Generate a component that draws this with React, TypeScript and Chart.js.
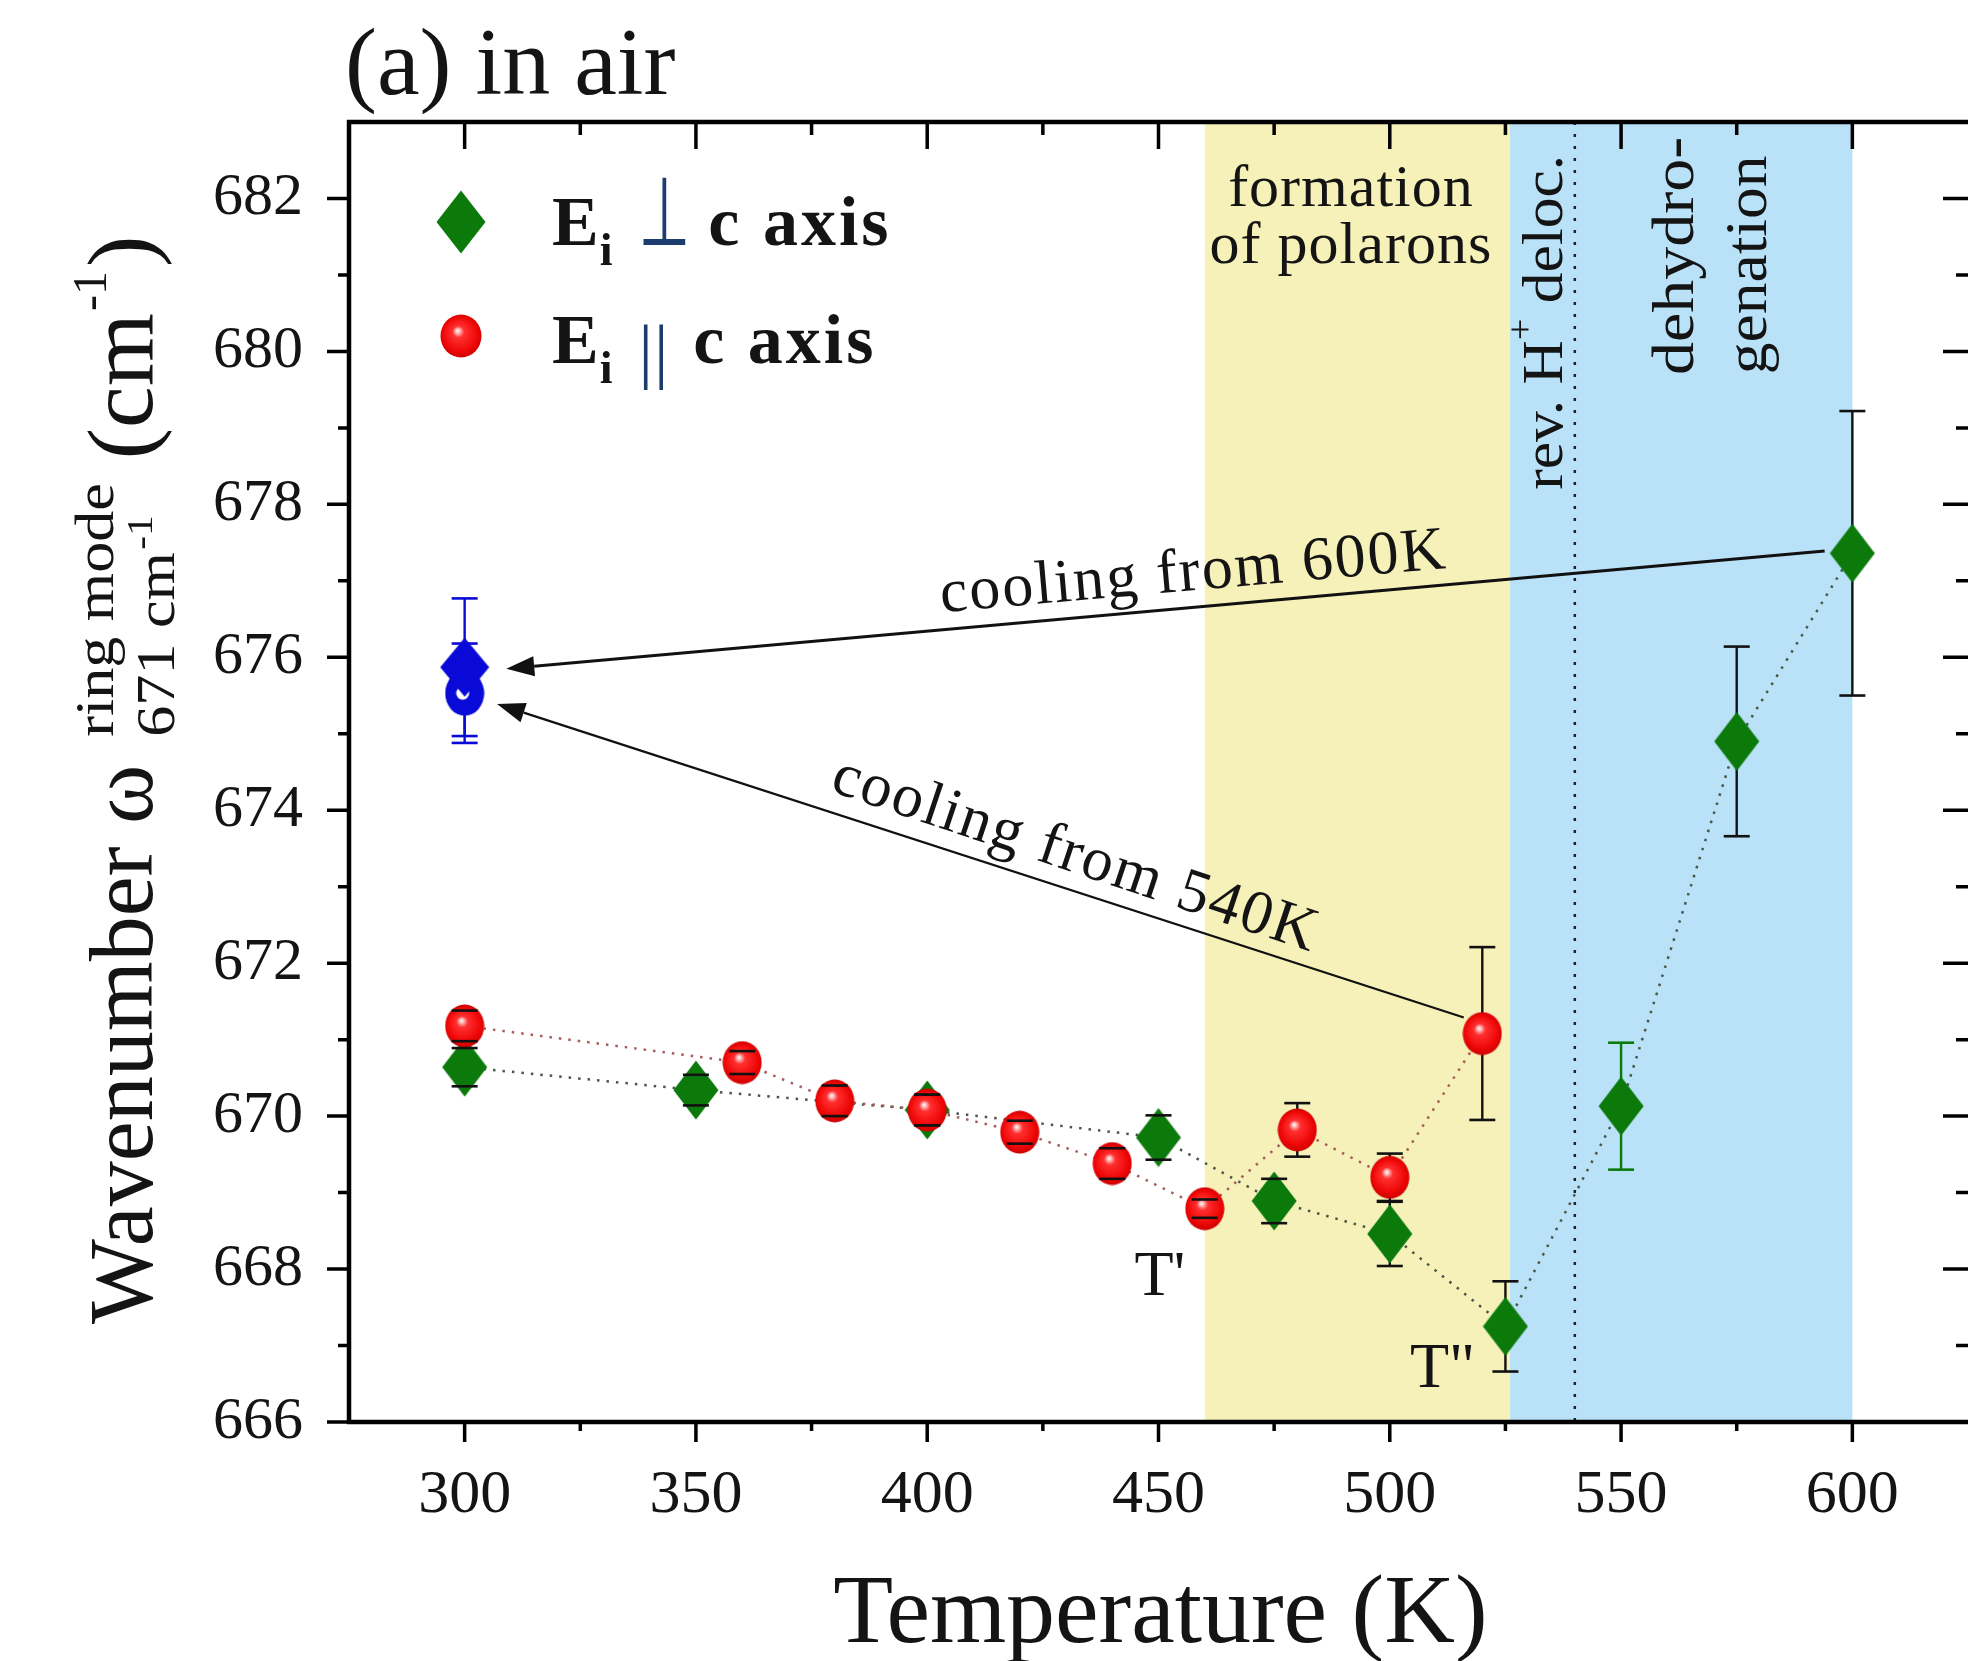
import { useEffect, useRef } from "react";
import { Chart, registerables } from "chart.js";

Chart.register(...registerables);

// ---------------- data ----------------
const xTickValues = [300, 350, 400, 450, 500, 550, 600];
const yTickValues = [666, 668, 670, 672, 674, 676, 678, 680, 682];

// E_i ⊥ c axis (green diamonds)
const perpT = [300, 350, 400, 450, 475, 500, 525, 550, 575, 600];
const perpW = [670.64, 670.34, 670.08, 669.72, 668.89, 668.46, 667.25, 670.13, 674.9, 677.36];
const perpErr = [0.25, 0.2, 0.2, 0.29, 0.29, 0.42, 0.59, 0.83, 1.24, 1.86];

// E_i ∥ c axis (red spheres)
const paraT = [300, 360, 380, 400, 420, 440, 460, 480, 500, 520];
const paraW = [671.18, 670.7, 670.2, 670.08, 669.79, 669.38, 668.79, 669.82, 669.2, 671.08];
const paraErr = [0.2, 0.15, 0.2, 0.2, 0.15, 0.2, 0.12, 0.35, 0.31, 1.13];

// after cooling back to 300 K (blue): [from 600 K (diamond), from 540 K (circle)]
const cooledT = [300, 300];
const cooledW = [675.87, 675.53];
const cooledErr = [0.9, 0.65];

// temperature regions (K)
const polaronBand = [460, 526];
const dehydroBand = [526, 600];
const delocLineT = 540;

// arrows [T, ω]
const arrow600From = [594, 677.39];
const arrow600To = [309, 675.85];
const arrow540From = [516, 671.29];
const arrow540To = [307, 675.39];

// ---------------- styles ----------------
const W = 1968;
const H = 1661;
const SERIF = "'Liberation Serif', 'Times New Roman', serif";
const TEXT = "#141414";
const GREEN = "#0b7a0b";
const BLUE_PT = "#0a0ad8";
const YELLOW_BAND = "#f5f1b9";
const BLUE_BAND = "#b9e1f7";
const SYM_BLUE = "#1d3c6e";
const perpErrColor = ["#111", "#111", "#111", "#111", "#111", "#111", "#111", GREEN, "#111", "#111"];

function makeDiamond(color: string, w: number, h: number) {
  const c = document.createElement("canvas");
  c.width = w;
  c.height = h;
  const g = c.getContext("2d")!;
  g.fillStyle = color;
  g.beginPath();
  g.moveTo(w / 2, 0.5);
  g.lineTo(w - 0.5, h / 2);
  g.lineTo(w / 2, h - 0.5);
  g.lineTo(0.5, h / 2);
  g.closePath();
  g.fill();
  return c;
}

function makeSphere(w: number, h: number) {
  const c = document.createElement("canvas");
  c.width = w;
  c.height = h;
  const g = c.getContext("2d")!;
  const grad = g.createRadialGradient(w * 0.42, h * 0.38, 1, w * 0.5, h * 0.5, w * 0.56);
  grad.addColorStop(0, "#ffe6e6");
  grad.addColorStop(0.22, "#ff3030");
  grad.addColorStop(0.7, "#f00808");
  grad.addColorStop(1, "#c80000");
  g.fillStyle = grad;
  g.beginPath();
  g.ellipse(w / 2, h / 2, w / 2 - 0.5, h / 2 - 0.5, 0, 0, Math.PI * 2);
  g.fill();
  return c;
}

function makeBlueCircle(w: number, h: number) {
  const c = document.createElement("canvas");
  c.width = w;
  c.height = h;
  const g = c.getContext("2d")!;
  g.fillStyle = BLUE_PT;
  g.beginPath();
  g.ellipse(w / 2, h / 2, w / 2 - 0.5, h / 2 - 0.5, 0, 0, Math.PI * 2);
  g.fill();
  g.fillStyle = "#ffffff";
  g.beginPath();
  g.arc(w / 2 - 2, h / 2, 6.5, 0, Math.PI * 2);
  g.fill();
  return c;
}

function drawArrow(ctx: CanvasRenderingContext2D, x1: number, y1: number, x2: number, y2: number, lw: number, head: number) {
  const ang = Math.atan2(y2 - y1, x2 - x1);
  const bx = x2 - Math.cos(ang) * head;
  const by = y2 - Math.sin(ang) * head;
  ctx.save();
  ctx.strokeStyle = "#111";
  ctx.fillStyle = "#111";
  ctx.lineWidth = lw;
  ctx.beginPath();
  ctx.moveTo(x1, y1);
  ctx.lineTo(bx, by);
  ctx.stroke();
  const hw = head * 0.36;
  ctx.beginPath();
  ctx.moveTo(x2, y2);
  ctx.lineTo(bx + Math.sin(ang) * hw, by - Math.cos(ang) * hw);
  ctx.lineTo(bx - Math.sin(ang) * hw, by + Math.cos(ang) * hw);
  ctx.closePath();
  ctx.fill();
  ctx.restore();
}

export default function App() {
  const ref = useRef<HTMLCanvasElement>(null);

  useEffect(() => {
    const canvas = ref.current;
    if (!canvas) return;

    const greenDiamond = makeDiamond(GREEN, 46, 60);
    const legendDiamond = makeDiamond(GREEN, 50, 64);
    const redSphere = makeSphere(40, 44);
    const legendSphere = makeSphere(42, 44);
    const blueDiamond = makeDiamond(BLUE_PT, 50, 60);
    const blueCircle = makeBlueCircle(40, 46);

    const decor = {
      id: "decor",
      beforeDatasetsDraw(chart: any) {
        const { ctx, chartArea: ca, scales } = chart;
        const px = (v: number) => scales.x.getPixelForValue(v);
        const py = (v: number) => scales.y.getPixelForValue(v);
        ctx.save();
        ctx.beginPath();
        ctx.rect(ca.left, ca.top, ca.right - ca.left, ca.bottom - ca.top);
        ctx.clip();
        // bands
        ctx.fillStyle = YELLOW_BAND;
        ctx.fillRect(px(polaronBand[0]), ca.top, px(polaronBand[1]) - px(polaronBand[0]), ca.bottom - ca.top);
        ctx.fillStyle = BLUE_BAND;
        ctx.fillRect(px(dehydroBand[0]), ca.top, px(dehydroBand[1]) - px(dehydroBand[0]), ca.bottom - ca.top);
        // dotted line at 540 K
        ctx.strokeStyle = "#222";
        ctx.lineWidth = 2.5;
        ctx.setLineDash([3, 9]);
        ctx.beginPath();
        ctx.moveTo(px(delocLineT), ca.top);
        ctx.lineTo(px(delocLineT), ca.bottom);
        ctx.stroke();
        ctx.setLineDash([]);
        // error whiskers (behind markers)
        const whisk = (t: number, w: number, e: number, col: string) => {
          ctx.strokeStyle = col;
          ctx.lineWidth = 2.4;
          ctx.beginPath();
          ctx.moveTo(px(t), py(w + e));
          ctx.lineTo(px(t), py(w - e));
          ctx.stroke();
        };
        perpT.forEach((t, i) => whisk(t, perpW[i], perpErr[i], perpErrColor[i]));
        paraT.forEach((t, i) => whisk(t, paraW[i], paraErr[i], "#111"));
        cooledT.forEach((t, i) => whisk(t, cooledW[i], cooledErr[i], BLUE_PT));
        ctx.restore();
      },
      afterDatasetsDraw(chart: any) {
        const { ctx, chartArea: ca, scales } = chart;
        const px = (v: number) => scales.x.getPixelForValue(v);
        const py = (v: number) => scales.y.getPixelForValue(v);
        ctx.save();
        // error caps
        const caps = (t: number, w: number, e: number, col: string) => {
          ctx.strokeStyle = col;
          ctx.lineWidth = 2.6;
          const hw = 13;
          [w + e, w - e].forEach((v) => {
            ctx.beginPath();
            ctx.moveTo(px(t) - hw, py(v));
            ctx.lineTo(px(t) + hw, py(v));
            ctx.stroke();
          });
        };
        perpT.forEach((t, i) => caps(t, perpW[i], perpErr[i], perpErrColor[i]));
        paraT.forEach((t, i) => caps(t, paraW[i], paraErr[i], "#111"));
        cooledT.forEach((t, i) => caps(t, cooledW[i], cooledErr[i], BLUE_PT));

        // arrows
        drawArrow(ctx, px(arrow600From[0]), py(arrow600From[1]), px(arrow600To[0]), py(arrow600To[1]), 3, 28);
        drawArrow(ctx, px(arrow540From[0]), py(arrow540From[1]), px(arrow540To[0]), py(arrow540To[1]), 2.2, 28);

        // axes lines
        ctx.strokeStyle = "#000";
        ctx.lineWidth = 4.5;
        ctx.beginPath();
        ctx.moveTo(ca.left, ca.top - 2);
        ctx.lineTo(ca.left, ca.bottom + 2);
        ctx.moveTo(ca.left - 2, ca.top);
        ctx.lineTo(ca.right, ca.top);
        ctx.moveTo(ca.left - 2, ca.bottom);
        ctx.lineTo(ca.right, ca.bottom);
        ctx.stroke();

        // ticks
        ctx.lineWidth = 3.5;
        const xMin = scales.x.min;
        const xMax = scales.x.max;
        for (let v = Math.ceil(xMin / 25) * 25; v <= xMax; v += 25) {
          if (v <= xMin || v >= xMax) continue;
          const x = px(v);
          const major = v % 50 === 0;
          ctx.beginPath();
          ctx.moveTo(x, ca.bottom);
          ctx.lineTo(x, ca.bottom + (major ? 20 : 9));
          ctx.moveTo(x, ca.top);
          ctx.lineTo(x, ca.top + (major ? 27 : 13));
          ctx.stroke();
        }
        const yMin = scales.y.min;
        const yMax = scales.y.max;
        for (let v = Math.ceil(yMin); v < yMax; v += 1) {
          const y = py(v);
          const major = v % 2 === 0;
          ctx.beginPath();
          ctx.moveTo(ca.left, y);
          ctx.lineTo(ca.left - (major ? 22 : 11), y);
          ctx.moveTo(ca.right, y);
          ctx.lineTo(ca.right - (major ? 25 : 12), y);
          ctx.stroke();
        }

        // ------------- texts -------------
        ctx.fillStyle = TEXT;
        ctx.textBaseline = "alphabetic";

        // panel title
        ctx.textAlign = "left";
        ctx.font = `96px ${SERIF}`;
        ctx.fillText("(a) in air", ca.left - 4, ca.top - 28);

        // x title
        ctx.textAlign = "center";
        ctx.font = `98px ${SERIF}`;
        ctx.fillText("Temperature (K)", (ca.left + ca.right) / 2 + 2, ca.bottom + 220);

        // band label
        ctx.font = `60px ${SERIF}`;
        (ctx as any).letterSpacing = "1px";
        ctx.fillText("formation", px(491.6), py(681.9));
        ctx.fillText("of polarons", px(491.6), py(681.16));
        (ctx as any).letterSpacing = "0px";

        // rotated labels in blue region
        ctx.textAlign = "left";
        const vert = (x: number, y: number, stretch: number, fn: () => void) => {
          ctx.save();
          ctx.translate(x, y);
          ctx.rotate(-Math.PI / 2);
          ctx.scale(stretch, 1);
          fn();
          ctx.restore();
        };
        vert(px(537.3), py(678.19), 1.06, () => {
          ctx.font = `58px ${SERIF}`;
          ctx.fillText("rev. H", 0, 0);
          let cx = ctx.measureText("rev. H").width;
          ctx.font = `36px ${SERIF}`;
          ctx.fillText("+", cx, -30);
          cx += ctx.measureText("+").width;
          ctx.font = `58px ${SERIF}`;
          ctx.fillText(" deloc.", cx, 0);
        });
        vert(px(565.6), py(679.69), 1.1, () => {
          ctx.font = `60px ${SERIF}`;
          ctx.fillText("dehydro-", 0, 0);
        });
        vert(px(581.4), py(679.7), 1.06, () => {
          ctx.font = `60px ${SERIF}`;
          ctx.fillText("genation", 0, 0);
        });

        // cooling labels
        const tilted = (x: number, y: number, deg: number, s: string) => {
          ctx.save();
          ctx.translate(x, y);
          ctx.rotate((deg * Math.PI) / 180);
          ctx.textAlign = "center";
          ctx.font = `62px ${SERIF}`;
          (ctx as any).letterSpacing = "2px";
          ctx.fillText(s, 0, 0);
          ctx.restore();
        };
        tilted(px(457.9), py(676.88), -5, "cooling from 600K");
        tilted(px(430.9), py(673.2), 18.5, "cooling from 540K");

        // T' and T''
        ctx.textAlign = "center";
        ctx.font = `64px ${SERIF}`;
        ctx.fillText("T'", px(450.3), py(667.66));
        ctx.fillText('T"', px(511.4), py(666.46));

        // legend
        const lx = ca.left + 112;
        const r1 = ca.top + 100;
        const r2 = ca.top + 214;
        ctx.drawImage(legendDiamond, lx - legendDiamond.width / 2, r1 - legendDiamond.height / 2);
        ctx.drawImage(legendSphere, lx - legendSphere.width / 2, r2 - legendSphere.height / 2);
        const row = (base: number, perp: boolean) => {
          let cx = ca.left + 203;
          ctx.textAlign = "left";
          ctx.fillStyle = TEXT;
          ctx.font = `bold 70px ${SERIF}`;
          ctx.fillText("E", cx, base);
          cx += ctx.measureText("E").width + 1;
          ctx.font = `bold 46px ${SERIF}`;
          ctx.fillText("i", cx, base + 20);
          cx += ctx.measureText("i").width + 26;
          ctx.fillStyle = SYM_BLUE;
          if (perp) {
            ctx.save();
            ctx.translate(cx, base);
            ctx.scale(0.62, 1);
            ctx.font = `96px 'DejaVu Sans', sans-serif`;
            ctx.fillText("⊥", 0, 0);
            const w = ctx.measureText("⊥").width * 0.62;
            ctx.restore();
            cx += w + 18;
          } else {
            ctx.font = `72px ${SERIF}`;
            (ctx as any).letterSpacing = "1px";
            ctx.fillText("||", cx, base + 12);
            cx += ctx.measureText("||").width + 24;
            (ctx as any).letterSpacing = "0px";
          }
          ctx.fillStyle = TEXT;
          ctx.font = `bold 70px ${SERIF}`;
          (ctx as any).letterSpacing = "3px";
          ctx.fillText("c axis", cx, base);
          (ctx as any).letterSpacing = "0px";
        };
        row(ca.top + 123, true);
        row(ca.top + 241, false);

        // y title (rotated, composite)
        ctx.save();
        ctx.translate(ca.left - 197, ca.bottom - 98);
        ctx.rotate(-Math.PI / 2);
        ctx.textAlign = "left";
        ctx.fillStyle = TEXT;
        ctx.font = `90px ${SERIF}`;
        ctx.fillText("Wavenumber ω", 0, 0);
        let tx = ctx.measureText("Wavenumber ω").width + 28;
        const stretch = 1.15;
        ctx.save();
        ctx.translate(tx, 0);
        ctx.scale(stretch, 1);
        ctx.font = `54px ${SERIF}`;
        ctx.fillText("ring mode", 0, -39);
        const wRing = ctx.measureText("ring mode").width;
        ctx.fillText("671 cm", 0, 22);
        const wSub = ctx.measureText("671 cm").width;
        ctx.font = `36px ${SERIF}`;
        ctx.fillText("-1", wSub + 2, 0);
        const wSubTot = wSub + 2 + ctx.measureText("-1").width;
        ctx.restore();
        tx += Math.max(wRing, wSubTot) * stretch + 24;
        ctx.font = `94px ${SERIF}`;
        ctx.fillText("(cm", tx, 0);
        tx += ctx.measureText("(cm").width + 2;
        ctx.font = `48px ${SERIF}`;
        ctx.fillText("-1", tx, -46);
        tx += ctx.measureText("-1").width + 4;
        ctx.font = `94px ${SERIF}`;
        ctx.fillText(")", tx, 0);
        ctx.restore();

        ctx.restore();
      },
    };

    const chart = new Chart(canvas, {
      type: "scatter",
      data: {
        datasets: [
          {
            label: "E_i ∥ c axis",
            data: paraT.map((t, i) => ({ x: t, y: paraW[i] })),
            showLine: true,
            borderColor: "#a85c5c",
            borderWidth: 2.5,
            borderDash: [2.5, 7],
            pointStyle: redSphere as any,
            pointRadius: 21,
            order: 1,
          },
          {
            label: "E_i ⊥ c axis",
            data: perpT.map((t, i) => ({ x: t, y: perpW[i] })),
            showLine: true,
            borderColor: "#4a564a",
            borderWidth: 2.5,
            borderDash: [2.5, 7],
            pointStyle: greenDiamond as any,
            pointRadius: 24,
            order: 2,
          },
          {
            label: "cooled from 600 K",
            data: [{ x: cooledT[0], y: cooledW[0] }],
            showLine: false,
            pointStyle: blueDiamond as any,
            pointRadius: 24,
            order: 0,
          },
          {
            label: "cooled from 540 K",
            data: [{ x: cooledT[1], y: cooledW[1] }],
            showLine: false,
            pointStyle: blueCircle as any,
            pointRadius: 20,
            order: 0,
          },
        ],
      },
      options: {
        responsive: false,
        animation: false,
        devicePixelRatio: 1,
        events: [],
        layout: { autoPadding: false, padding: { top: 122, left: 0, right: 0, bottom: 0 } },
        plugins: {
          legend: { display: false },
          tooltip: { enabled: false },
          title: { display: false },
        },
        scales: {
          x: {
            type: "linear",
            position: "bottom",
            min: 275,
            max: 625,
            afterBuildTicks: (s: any) => {
              s.ticks = xTickValues.map((v) => ({ value: v }));
            },
            afterFit: (s: any) => {
              s.height = 239;
              s.paddingLeft = 0;
              s.paddingRight = 0;
            },
            grid: { display: false, drawTicks: false },
            border: { display: false },
            ticks: {
              font: { family: "Liberation Serif", size: 62 },
              color: TEXT,
              padding: 37,
              maxRotation: 0,
              autoSkip: false,
            },
          },
          y: {
            type: "linear",
            position: "left",
            min: 666,
            max: 683,
            afterBuildTicks: (s: any) => {
              s.ticks = yTickValues.map((v) => ({ value: v }));
            },
            afterFit: (s: any) => {
              s.width = 349;
              s.paddingTop = 0;
              s.paddingBottom = 0;
            },
            grid: { display: false, drawTicks: false },
            border: { display: false },
            ticks: {
              font: { family: "Liberation Serif", size: 60 },
              color: TEXT,
              padding: 46,
              autoSkip: false,
            },
          },
        },
      },
      plugins: [decor],
    } as any);

    return () => chart.destroy();
  }, []);

  return (
    <div
      style={{
        position: "absolute",
        left: 0,
        top: 0,
        width: W,
        height: H,
        overflow: "hidden",
        background: "#ffffff",
      }}
    >
      <canvas ref={ref} width={W} height={H} style={{ display: "block" }} />
    </div>
  );
}
